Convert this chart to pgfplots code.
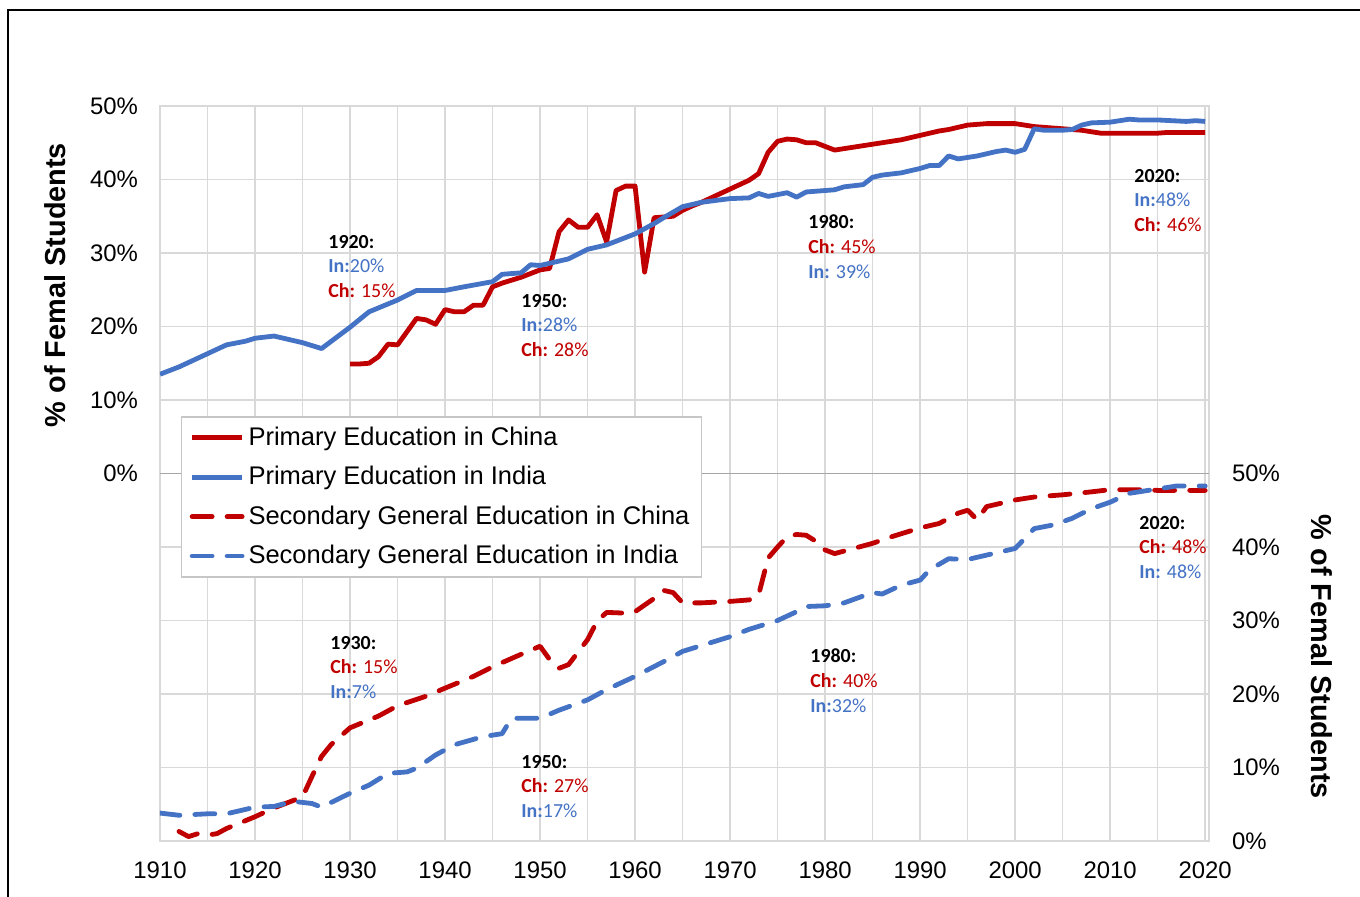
\documentclass[border=0pt]{standalone}
\usepackage{pgfplots}
\pgfplotsset{compat=1.18}
\usepackage{fontspec}
\setmainfont{Liberation Sans}
\newfontfamily\annfont{Carlito}
\definecolor{cred}{HTML}{C00000}
\definecolor{cblue}{HTML}{4472C4}
\definecolor{gridc}{HTML}{D9D9D9}
\definecolor{midc}{HTML}{A6A6A6}
\newcommand{\ann}[5]{\node[anchor=north west, inner sep=0pt, align=left,
  font=\annfont\fontsize{10}{12.5}\selectfont] at (#1,#2) {\textbf{#3}\\#4\\#5};}
\newcommand{\ch}[1]{\textcolor{cred}{\textbf{Ch:}#1}}
\newcommand{\inn}[1]{\textcolor{cblue}{\textbf{In:}#1}}
\begin{document}
\begin{tikzpicture}
\path[use as bounding box] (-80bp,-28bp) rectangle (600bp,420.5bp);
\draw[black, line width=0.9bp] (-76bp,-28bp) -- (-76bp,415.5bp) -- (600bp,415.5bp);
\begin{axis}[
  at={(0,0)}, anchor=south west,
  scale only axis, width=524.5bp, height=367.5bp,
  xmin=1910, xmax=2020.4, ymin=0, ymax=100,
  xtick={1910,1920,...,2020},
  minor xtick={1915,1925,...,2015},
  ytick={0,10,...,100},
  yticklabels={,,,,,0\%,10\%,20\%,30\%,40\%,50\%},
  xmajorgrids, xminorgrids, ymajorgrids,
  grid style={gridc, line width=0.75bp},
  minor grid style={gridc, line width=0.75bp},
  major tick length=0pt, minor tick length=0pt,
  axis line style={gridc, line width=0.75bp},
  /pgf/number format/assume math mode=true,
  /pgf/number format/1000 sep={},
  tick label style={font=\fontsize{12}{14}\selectfont, black},
  xticklabel style={yshift=-7bp},
  yticklabel style={xshift=-7.5bp},
  extra y ticks={50}, extra y tick labels={},
  extra y tick style={grid style={midc, line width=0.9bp}},
  legend style={at={(rel axis cs:0.02,0.578)}, anchor=north west, draw=gray!45, fill=white,
    line width=0.75bp, font=\fontsize{12.8}{15}\selectfont,
    inner xsep=4bp, inner ysep=3bp, row sep=5bp, nodes={inner sep=2bp}},
  legend cell align=left,
  legend image code/.code={\draw[#1] (0bp,0bp) -- (25bp,0bp);},
  every axis plot/.append style={line width=2.4bp, line join=round},
]
% Primary Education in China (left axis, shifted to upper half)
\addplot[cred, y filter/.expression={y+50}] coordinates {
(1930,14.9)(1931,14.9)(1932,15.0)(1933,15.9)(1934,17.6)(1935,17.5)(1936,19.3)(1937,21.1)
(1938,20.9)(1939,20.3)(1940,22.3)(1941,22.0)(1942,22.0)(1943,22.9)(1944,22.9)(1945,25.4)
(1946,25.9)(1947,26.3)(1948,26.7)(1949,27.2)(1950,27.7)(1951,27.9)(1952,32.9)(1953,34.5)
(1954,33.5)(1955,33.5)(1956,35.2)(1957,31.5)(1958,38.5)(1959,39.1)(1960,39.1)(1961,27.4)
(1962,34.8)(1963,34.9)(1964,35.0)(1965,35.8)(1966,36.4)(1967,36.9)(1968,37.5)(1969,38.1)
(1970,38.7)(1971,39.3)(1972,39.9)(1973,40.8)(1974,43.7)(1975,45.2)(1976,45.5)(1977,45.4)
(1978,45.0)(1979,45.0)(1980,44.5)(1981,44.0)(1982,44.2)(1983,44.4)(1984,44.6)(1985,44.8)
(1986,45.0)(1987,45.2)(1988,45.4)(1989,45.7)(1990,46.0)(1991,46.3)(1992,46.6)(1993,46.8)
(1994,47.1)(1995,47.4)(1996,47.5)(1997,47.6)(1998,47.6)(1999,47.6)(2000,47.6)(2001,47.4)
(2002,47.2)(2003,47.1)(2004,47.0)(2005,46.9)(2006,46.8)(2007,46.7)(2008,46.5)(2009,46.3)
(2010,46.3)(2012,46.3)(2015,46.3)(2016,46.4)(2018,46.4)(2020,46.4)
};
\addlegendentry{Primary Education in China}
% Primary Education in India
\addplot[cblue, y filter/.expression={y+50}] coordinates {
(1910,13.5)(1912,14.5)(1915,16.3)(1917,17.5)(1919,18.0)(1920,18.4)(1922,18.7)(1925,17.8)
(1927,17.0)(1930,19.9)(1932,22.0)(1935,23.6)(1937,24.9)(1940,24.9)(1942,25.4)(1945,26.1)
(1946,27.1)(1948,27.3)(1949,28.4)(1950,28.3)(1951,28.6)(1953,29.2)(1955,30.5)(1957,31.1)
(1960,32.6)(1962,34.0)(1963,34.8)(1965,36.3)(1967,36.9)(1970,37.4)(1972,37.5)(1973,38.1)
(1974,37.7)(1976,38.2)(1977,37.6)(1978,38.3)(1980,38.5)(1981,38.6)(1982,39.0)(1984,39.3)
(1985,40.3)(1986,40.6)(1988,40.9)(1990,41.5)(1991,41.9)(1992,41.9)(1993,43.2)(1994,42.8)
(1996,43.2)(1998,43.8)(1999,44.0)(2000,43.7)(2001,44.1)(2002,46.9)(2003,46.7)(2005,46.7)
(2006,46.8)(2007,47.4)(2008,47.7)(2010,47.8)(2012,48.2)(2013,48.1)(2015,48.1)(2018,47.9)
(2019,48.0)(2020,47.9)
};
\addlegendentry{Primary Education in India}
% Secondary General Education in China (right axis, lower half)
\addplot[cred, dash pattern=on 10bp off 7.5bp, line cap=round] coordinates {
(1912,1.3)(1913,0.6)(1914,1.0)(1915,0.8)(1916,1.0)(1917,1.7)(1920,3.3)(1922,4.5)(1925,6.0)
(1926,8.8)(1927,11.5)(1928,13.1)(1930,15.4)(1933,17.0)(1935,18.4)(1938,19.7)(1940,20.8)
(1943,22.4)(1945,23.7)(1948,25.4)(1950,26.5)(1951,24.7)(1952,23.5)(1953,24.0)(1955,27.4)
(1956,29.9)(1957,31.1)(1959,31.0)(1960,31.2)(1962,33.0)(1963,34.1)(1964,33.8)(1965,32.4)
(1967,32.4)(1970,32.6)(1972,32.8)(1973,33.5)(1974,38.5)(1975,40.0)(1976,41.4)(1977,41.7)
(1978,41.6)(1979,40.8)(1980,39.6)(1981,39.1)(1983,39.8)(1985,40.5)(1987,41.4)(1990,42.6)
(1992,43.2)(1994,44.6)(1995,45.0)(1996,43.7)(1997,45.5)(2000,46.4)(2002,46.8)(2005,47.1)
(2008,47.5)(2010,47.8)(2013,47.8)(2015,47.7)(2020,47.7)
};
\addlegendentry{Secondary General Education in China}
% Secondary General Education in India
\addplot[cblue, dash pattern=on 10bp off 7.5bp, line cap=round] coordinates {
(1910,3.8)(1912,3.5)(1915,3.7)(1917,3.7)(1920,4.6)(1922,4.7)(1924,5.4)(1926,5.1)(1927,4.6)
(1930,6.5)(1932,7.6)(1934,9.2)(1936,9.4)(1937,9.9)(1939,11.7)(1941,13.1)(1944,14.2)
(1946,14.6)(1947,16.7)(1950,16.7)(1952,17.8)(1955,19.2)(1957,20.6)(1960,22.4)(1963,24.4)
(1965,25.8)(1967,26.6)(1970,27.8)(1972,28.8)(1975,30.0)(1977,31.2)(1978,31.9)(1980,32.0)
(1982,32.4)(1985,33.8)(1986,33.6)(1988,34.8)(1990,35.5)(1991,36.9)(1993,38.4)(1995,38.3)
(1998,39.2)(2000,39.8)(2002,42.5)(2004,43.0)(2006,43.9)(2008,45.2)(2010,46.1)(2012,47.3)
(2015,47.9)(2017,48.3)(2020,48.3)
};
\addlegendentry{Secondary General Education in India}
\end{axis}
\begin{axis}[
  at={(0,0)}, anchor=south west,
  scale only axis, width=524.5bp, height=367.5bp,
  xmin=1910, xmax=2020.4, ymin=0, ymax=100,
  axis x line=none, axis y line*=right,
  axis line style={draw=none},
  ytick={0,10,...,50},
  yticklabels={0\%,10\%,20\%,30\%,40\%,50\%},
  major tick length=0pt,
  tick label style={font=\fontsize{12}{14}\selectfont, black},
  yticklabel style={xshift=8bp},
]
\addplot[draw=none, forget plot] coordinates {(1910,0)(2020,50)};
\end{axis}
\node[rotate=90, font=\fontsize{14.5}{16}\selectfont\bfseries] at (-52.5bp,278bp) {\% of Femal Students};
\node[rotate=-90, font=\fontsize{14.5}{16}\selectfont\bfseries] at (581bp,92bp) {\% of Femal Students};
\ann{84bp}{303.2bp}{1920:}{\inn{20\%}}{\ch{ 15\%}}
\ann{180.5bp}{273.7bp}{1950:}{\inn{28\%}}{\ch{ 28\%}}
\ann{324bp}{313.2bp}{1980:}{\ch{ 45\%}}{\inn{ 39\%}}
\ann{487bp}{336.2bp}{2020:}{\inn{48\%}}{\ch{ 46\%}}
\ann{85bp}{102.7bp}{1930:}{\ch{ 15\%}}{\inn{7\%}}
\ann{180.5bp}{43.2bp}{1950:}{\ch{ 27\%}}{\inn{17\%}}
\ann{325bp}{96.2bp}{1980:}{\ch{ 40\%}}{\inn{32\%}}
\ann{489.5bp}{162.7bp}{2020:}{\ch{ 48\%}}{\inn{ 48\%}}
\end{tikzpicture}
\end{document}
